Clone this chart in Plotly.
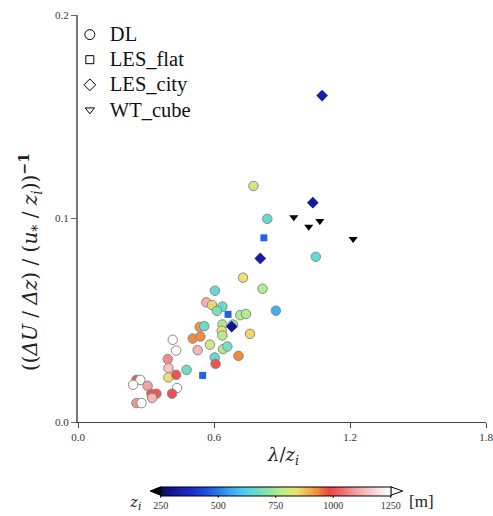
import plotly.graph_objects as go

# ---- data -------------------------------------------------------------
# DL (Doppler lidar) cases
dl_x = [0.774, 0.835, 1.049, 0.728, 0.814, 0.604, 0.566, 0.591, 0.637, 0.613,
        0.716, 0.741, 0.873, 0.537, 0.557, 0.637, 0.684, 0.634, 0.637, 0.759,
        0.418, 0.506, 0.540, 0.582, 0.433, 0.528, 0.640, 0.659, 0.708, 0.603,
        0.607, 0.396, 0.399, 0.479, 0.399, 0.433, 0.258, 0.275, 0.243, 0.307,
        0.437, 0.324, 0.346, 0.327, 0.415, 0.258, 0.280]
dl_y = [0.116, 0.0998, 0.0812, 0.0709, 0.0655, 0.0645, 0.0588, 0.0575, 0.0567, 0.0546,
        0.0525, 0.0531, 0.0547, 0.0467, 0.0471, 0.0479, 0.0479, 0.0448, 0.0425, 0.0433,
        0.0404, 0.0410, 0.0420, 0.0380, 0.0351, 0.0353, 0.0358, 0.0371, 0.0325, 0.0317,
        0.0286, 0.0309, 0.0265, 0.0256, 0.0219, 0.0232, 0.0207, 0.0207, 0.0183, 0.0178,
        0.0167, 0.0139, 0.0139, 0.0118, 0.0139, 0.0093, 0.0093]
dl_zi = [800, 650, 650, 840, 760, 650, 1120, 850, 660, 690,
         760, 760, 560, 920, 670, 750, 720, 840, 760, 850,
         1250, 930, 930, 790, 1250, 1130, 760, 680, 930, 650,
         1000, 1070, 1150, 670, 840, 1000, 1010, 1250, 1250, 1100,
         1250, 1000, 1010, 1130, 1000, 1080, 1250]

# LES over flat terrain
flat_x = [0.820, 0.662, 0.550]
flat_y = [0.0905, 0.0529, 0.0229]
flat_zi = [470, 470, 470]

# LES over city
city_x = [1.077, 1.036, 0.804, 0.678]
city_y = [0.1604, 0.1078, 0.0804, 0.0469]
city_zi = [330, 320, 330, 300]

# Wind tunnel, cube arrays
wt_x = [0.952, 1.018, 1.067, 1.214]
wt_y = [0.1006, 0.0959, 0.0988, 0.0899]

x_ticks = [0.0, 0.6, 1.2, 1.8]
y_ticks = [0.0, 0.1, 0.2]
cb_ticks = [250, 500, 750, 1000, 1250]
ZMIN, ZMAX = 250, 1250

# ---- style ------------------------------------------------------------
SERIF = "Liberation Serif, Times New Roman, serif"
MATH = "DejaVu Serif, serif"
W, H = 493, 516
ML, MR, MT, MB = 78, 7, 15, 94

zi_scale = [
    [0.00, "#0c0c5a"], [0.05, "#141496"], [0.125, "#1a2ac8"], [0.20, "#2050e0"],
    [0.25, "#2a78ec"], [0.30, "#3aa8f2"], [0.36, "#50ccf0"], [0.41, "#66dccc"],
    [0.47, "#8ee6a4"], [0.53, "#c4ee88"], [0.59, "#ece070"], [0.64, "#f4b04c"],
    [0.68, "#f28c38"], [0.73, "#ec4444"], [0.78, "#f06464"], [0.83, "#f49494"],
    [0.89, "#f8bcbc"], [0.95, "#fce4e4"], [1.00, "#ffffff"],
]

# colour bar placement (paper units)
pw, ph = W - ML - MR, H - MT - MB
cb_left_px, cb_right_px = 160.7, 390.7
cb_top_px, cb_thick = 486.8, 8.5
cb_len = (cb_right_px - cb_left_px) / pw
cb_x = ((cb_left_px + cb_right_px) / 2 - ML) / pw
cb_y = (H - MB - cb_top_px) / ph


def px(xp):
    return (xp - ML) / pw


def py(yp):
    return (H - MB - yp) / ph


def label(text, x, y, size, family=SERIF, angle=0):
    fig.add_annotation(xref="paper", yref="paper", x=px(x), y=py(y),
                       xanchor="center", yanchor="middle", textangle=angle,
                       text=text, showarrow=False,
                       font=dict(family=family, size=size, color="#222"))


fig = go.Figure()

fig.add_trace(go.Scatter(
    x=dl_x, y=dl_y, mode="markers", name="DL", showlegend=False,
    marker=dict(symbol="circle", size=9.5, color=dl_zi, colorscale=zi_scale,
                cmin=ZMIN, cmax=ZMAX, line=dict(color="#8a8a8a", width=1),
                showscale=True,
                colorbar=dict(
                    orientation="h", x=cb_x, xanchor="center", y=cb_y, yanchor="top",
                    len=cb_len, lenmode="fraction", thickness=cb_thick,
                    xpad=0, ypad=0, outlinewidth=1, outlinecolor="#000",
                    tickvals=cb_ticks, ticks="", ticklen=0,
                    tickfont=dict(family=SERIF, size=10, color="#333"),
                )),
))
fig.add_trace(go.Scatter(
    x=flat_x, y=flat_y, mode="markers", name="LES_flat", showlegend=False,
    marker=dict(symbol="square", size=7, color=flat_zi, colorscale=zi_scale,
                cmin=ZMIN, cmax=ZMAX, line=dict(width=0)),
))
fig.add_trace(go.Scatter(
    x=city_x, y=city_y, mode="markers", name="LES_city", showlegend=False,
    marker=dict(symbol="diamond", size=9, color=city_zi, colorscale=zi_scale,
                cmin=ZMIN, cmax=ZMAX, line=dict(width=0)),
))
fig.add_trace(go.Scatter(
    x=wt_x, y=wt_y, mode="markers", name="WT_cube", showlegend=False,
    marker=dict(symbol="triangle-down", size=8, color="#000", line=dict(width=0)),
))

# open-symbol legend keys
for name, sym, size in [("DL", "circle-open", 10), ("LES_flat", "square-open", 8),
                        ("LES_city", "diamond-open", 9), ("WT_cube", "triangle-down-open", 8)]:
    fig.add_trace(go.Scatter(
        x=[None], y=[None], mode="markers",
        name=f'<span style="font-size:20.5px">{name}</span>',
        marker=dict(symbol=sym, size=size, color="#000", line=dict(width=1)),
    ))

# colour bar end extensions (below-range and above-range arrows)
mid = cb_top_px + cb_thick / 2
cb_bot = cb_top_px + cb_thick
fig.add_shape(type="path", xref="paper", yref="paper",
              path=f"M {px(cb_left_px)},{py(cb_top_px)} L {px(cb_left_px - 10.5)},{py(mid)} "
                   f"L {px(cb_left_px)},{py(cb_bot)} Z",
              fillcolor="#000", line=dict(color="#000", width=1))
fig.add_shape(type="path", xref="paper", yref="paper",
              path=f"M {px(cb_right_px)},{py(cb_top_px)} L {px(cb_right_px + 12)},{py(mid)} "
                   f"L {px(cb_right_px)},{py(cb_bot)} Z",
              fillcolor="#fff", line=dict(color="#000", width=1))

# short tick marks under the colour bar
for v in cb_ticks:
    xt = cb_left_px + (v - ZMIN) / (ZMAX - ZMIN) * (cb_right_px - cb_left_px)
    fig.add_shape(type="line", xref="paper", yref="paper",
                  x0=px(xt), x1=px(xt), y0=py(cb_bot), y1=py(cb_bot + 2.5),
                  line=dict(color="#000", width=1))

label("<i>z<sub>i</sub></i>", 135, 502, 15, MATH)
label("[m]", 421, 501, 17)

# axis titles
label("<i>λ</i>/<i>z<sub>i</sub></i>", 283, 456, 18, MATH)
label("((<i>ΔU</i> / <i>Δz</i>) / (<i>u</i><sub>*</sub> / <i>z<sub>i</sub></i>))<sup><b>−1</b></sup>",
      30, 262, 20, MATH, angle=-90)

fig.update_layout(
    width=W, height=H, margin=dict(l=ML, r=MR, t=MT, b=MB, autoexpand=False),
    paper_bgcolor="#fff", plot_bgcolor="#fff",
    font=dict(family=SERIF, color="#333"),
    legend=dict(x=-0.02, y=0.995, xanchor="left", yanchor="top",
                font=dict(family=SERIF, size=17, color="#111"),
                bgcolor="rgba(0,0,0,0)", tracegroupgap=0, itemwidth=30),
    xaxis=dict(range=[0, 1.8], tickvals=x_ticks, ticktext=[f"{v:.1f}" for v in x_ticks],
               showgrid=False, zeroline=False, showline=True, linecolor="#444", linewidth=1.2,
               ticks="outside", ticklen=5, tickcolor="#444", ticklabeloverflow="allow",
               tickfont=dict(family=SERIF, size=11, color="#333")),
    yaxis=dict(range=[0, 0.2], tickvals=y_ticks, ticktext=[f"{v:.1f}" for v in y_ticks],
               showgrid=False, zeroline=False, showline=True, linecolor="#777", linewidth=2,
               ticks="outside", ticklen=5, tickcolor="#666", ticklabeloverflow="allow",
               tickfont=dict(family=SERIF, size=11, color="#333")),
)

fig.write_html("out.html")
